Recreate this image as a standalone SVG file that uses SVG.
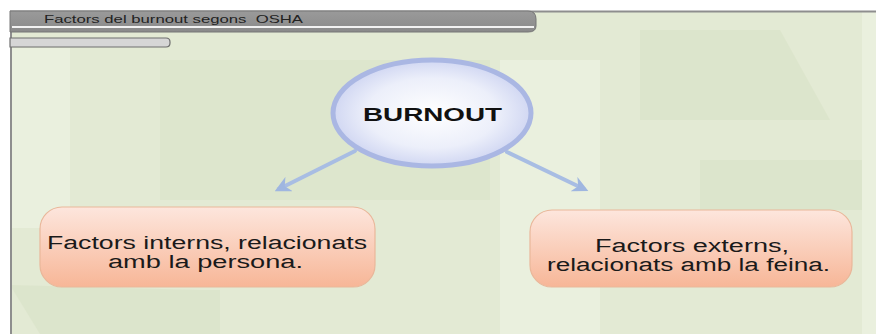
<svg xmlns="http://www.w3.org/2000/svg" width="876" height="334" viewBox="0 0 876 334">
  <defs>
    <radialGradient id="ellFill" cx="50%" cy="50%" r="55%">
      <stop offset="0" stop-color="#ffffff"/>
      <stop offset="0.6" stop-color="#eceffa"/>
      <stop offset="1" stop-color="#c9d0f0"/>
    </radialGradient>
    <linearGradient id="boxFill" x1="0" y1="0" x2="0" y2="1">
      <stop offset="0" stop-color="#fde6dd"/>
      <stop offset="1" stop-color="#f7b697"/>
    </linearGradient>
    <linearGradient id="tabFill" x1="0" y1="0" x2="0" y2="1">
      <stop offset="0" stop-color="#9a9a9a"/>
      <stop offset="1" stop-color="#8a8a8a"/>
    </linearGradient>
    <marker id="head" viewBox="0 0 10 10" refX="7" refY="5" markerWidth="4" markerHeight="4" orient="auto">
      <path d="M0,0 L10,5 L0,10 L3,5 Z" fill="#9fb6e0"/>
    </marker>
  </defs>
  <style>
    .title { font-family: "Liberation Sans", Arial, sans-serif; font-size: 11px; fill: #222; white-space: pre; }
    .main { font-family: "Liberation Sans", Arial, sans-serif; font-size: 18px; font-weight: bold; fill: #111; }
    .lbl { font-family: "Liberation Sans", Arial, sans-serif; font-size: 18px; fill: #1a1a1a; }
    .box { fill: url(#boxFill); stroke: #e9b79a; stroke-width: 1.2; }
    .conn { stroke: #a8bde3; stroke-width: 4; fill: none; stroke-linecap: round; }
  </style>

  <!-- page background -->
  <rect x="0" y="0" width="876" height="334" fill="#ffffff"/>
  <rect x="10" y="11" width="866" height="323" fill="#e3ead4"/>
  <!-- faint background panels -->
  <g fill="#d8e2c6" opacity="0.55">
    <rect x="160" y="60" width="330" height="140"/>
    <polygon points="640,30 780,30 830,120 640,120"/>
    <rect x="700" y="160" width="162" height="50"/>
    <polygon points="10,285 200,290 210,334 40,334"/>
    <rect x="160" y="290" width="60" height="44"/>
  </g>
  <g fill="#edf2e2" opacity="0.7">
    <rect x="862" y="11" width="14" height="323"/>
    <rect x="500" y="60" width="100" height="274"/>
    <rect x="10" y="48" width="60" height="180"/>
  </g>
  <line x1="10" y1="11.5" x2="876" y2="11.5" stroke="#8e8e8e" stroke-width="2"/>
  <line x1="11" y1="11" x2="11" y2="334" stroke="#8e8e8e" stroke-width="2"/>

  <!-- header tabs -->
  <g id="titleTab">
    <path d="M10,11 H528 Q536,11 536,19 V26 Q536,32 528,32 H10 Z" fill="url(#tabFill)" stroke="#777" stroke-width="1"/>
    <line x1="12" y1="27" x2="534" y2="27" stroke="#f2f2f2" stroke-width="2"/>
    <text class="title" x="44" y="23" textLength="259" lengthAdjust="spacingAndGlyphs">Factors del burnout segons  OSHA</text>
  </g>
  <g id="subTab">
    <path d="M10,38 H166 Q170,38 170,42 V43 Q170,47 166,47 H10 Z" fill="#d6d6d6" stroke="#6e6e6e" stroke-width="1.2"/>
  </g>

  <!-- connectors -->
  <g id="connectors">
    <line class="conn" x1="355" y1="151" x2="279" y2="189" marker-end="url(#head)"/>
    <line class="conn" x1="507" y1="152" x2="584" y2="189" marker-end="url(#head)"/>
  </g>

  <!-- central node -->
  <g id="burnout">
    <ellipse cx="432" cy="113" rx="99" ry="53" fill="url(#ellFill)" stroke="#aab7e3" stroke-width="5"/>
    <text class="main" x="363" y="121" textLength="139" lengthAdjust="spacingAndGlyphs">BURNOUT</text>
  </g>

  <!-- left node -->
  <g id="internal">
    <rect class="box" x="40" y="207" width="335" height="80" rx="22"/>
    <text class="lbl" x="47" y="249" textLength="320" lengthAdjust="spacingAndGlyphs">Factors interns, relacionats</text>
    <text class="lbl" x="108" y="268" textLength="195" lengthAdjust="spacingAndGlyphs">amb la persona.</text>
  </g>

  <!-- right node -->
  <g id="external">
    <rect class="box" x="530" y="210" width="322" height="77" rx="22"/>
    <text class="lbl" x="595" y="252" textLength="194" lengthAdjust="spacingAndGlyphs">Factors externs,</text>
    <text class="lbl" x="547" y="271" textLength="283" lengthAdjust="spacingAndGlyphs">relacionats amb la feina.</text>
  </g>
</svg>
